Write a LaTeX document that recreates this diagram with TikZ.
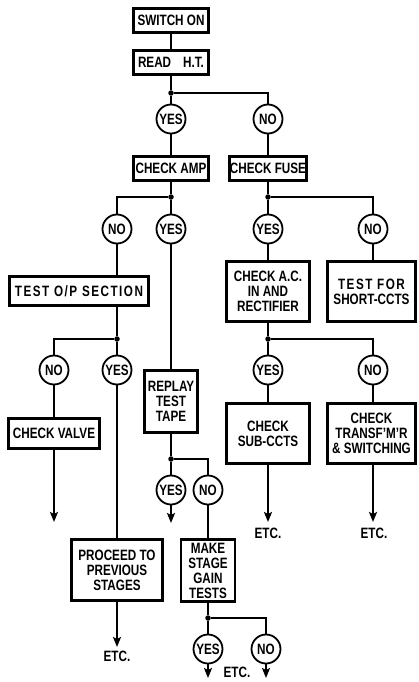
\documentclass[tikz,border=0pt]{standalone}
\usepackage{fontspec}
\usepackage{tikz}
\usetikzlibrary{arrows.meta,positioning}

\newfontfamily\chartfont{Liberation Sans}[FakeStretch=0.78]
\newfontfamily\chartwide{Liberation Sans}[FakeStretch=0.78,LetterSpace=10]

\begin{document}
\begin{tikzpicture}[
    x=1pt, y=-1pt,
    node distance=15pt,
    box/.style={draw,line width=2.8pt,inner sep=0pt,minimum height=24pt,align=center,
        font=\chartfont\bfseries\fontsize{15}{15}\selectfont},
    tallbox/.style={box,minimum height=60pt},
    ans/.style={draw,circle,line width=1.8pt,inner sep=0pt,minimum size=29pt,
        font=\chartfont\bfseries\fontsize{15}{15}\selectfont},
    dot/.style={circle,fill,inner sep=0pt,minimum size=5.5pt},
    link/.style={line width=2pt},
    arrow/.style={link,-{Stealth[length=10pt,width=8pt,inset=2pt]}},
    etc/.style={inner sep=0pt,font=\chartfont\bfseries\fontsize{15}{15}\selectfont}
]
    \useasboundingbox (0,0) rectangle (418,682);

    % start
    \node[box,minimum width=75pt] (sw) at (171,20.5) {SWITCH ON};
    \node[box,minimum width=75pt,below=of sw] (rd) {READ\hspace{12pt}H.T.};
    \node[dot] (j1) at (171,93) {};
    \node[ans] (a1) at (171,119) {YES};
    \node[ans] (a2) at (268,119) {NO};

    \node[box,minimum width=75pt] (amp) at (171,168.5) {CHECK AMP};
    \node[box,minimum width=77pt] (fuse) at (268,168.5) {CHECK FUSE};
    \node[dot] (j2) at (171,197) {};
    \node[dot] (j3) at (268,197) {};
    \node[ans] (a3) at (117,229) {NO};
    \node[ans] (a4) at (171,229) {YES};
    \node[ans] (a5) at (268,229) {YES};
    \node[ans] (a6) at (373,229) {NO};

    \node[box,minimum width=139pt,minimum height=29pt,font=\chartwide\bfseries\fontsize{15}{15}\selectfont] (op) at (79,291) {TEST O/P SECTION};
    \node[tallbox,minimum width=83pt] (acin) at (268,291.5) {CHECK A.C.\\IN AND\\RECTIFIER};
    \node[tallbox,minimum width=88pt] (short) at (371.5,291.5) {{\chartwide TEST FOR}\\SHORT-CCTS};
    \node[dot] (j4) at (117,339) {};
    \node[dot] (j5) at (268,339) {};
    \node[ans] (a7) at (54,370) {NO};
    \node[ans] (a8) at (117,370) {YES};
    \node[ans] (a9) at (268,370) {YES};
    \node[ans] (a10) at (373,370) {NO};

    \node[tallbox,minimum width=53pt,minimum height=62pt] (replay) at (171,401.5) {REPLAY\\TEST\\TAPE};
    \node[box,minimum width=91pt,minimum height=30pt] (valve) at (54,433.5) {CHECK VALVE};
    \node[tallbox,minimum width=83pt] (sub) at (268,433.5) {CHECK\\SUB-CCTS};
    \node[tallbox,minimum width=88pt] (tr) at (371.5,433.5) {CHECK\\TRANSF’M’R\\\& SWITCHING};
    \node[dot] (j6) at (171,459) {};
    \node[ans] (a11) at (171,490) {YES};
    \node[ans] (a12) at (208,490) {NO};

    \node[tallbox,minimum width=91pt,minimum height=61pt] (proceed) at (117,570) {PROCEED TO\\PREVIOUS\\STAGES};
    \node[tallbox,minimum width=54pt,minimum height=62pt] (make) at (208,570.5) {MAKE\\STAGE\\GAIN\\TESTS};
    \node[dot] (j7) at (208,618) {};
    \node[ans] (a13) at (208,649) {YES};
    \node[ans] (a14) at (266,649) {NO};

    % loose ends
    \coordinate (e1) at (54,522);
    \coordinate (e2) at (171,523);
    \coordinate (e3) at (268,522);
    \coordinate (e4) at (373,522);
    \coordinate (e5) at (117,647);
    \coordinate (e6) at (208,678);
    \coordinate (e7) at (266,678);
    \node[etc] (etc1) at (268,533) {ETC.};
    \node[etc] (etc2) at (374,533) {ETC.};
    \node[etc] (etc3) at (117,656) {ETC.};
    \node[etc] (etc4) at (237,672) {ETC.};

    \draw[link] (sw) -- (rd);
    \draw[link] (rd) -- (j1);
    \draw[link] (j1) -- (a1);
    \draw[link] (j1) -| (a2);
    \draw[link] (a1) -- (amp);
    \draw[link] (a2) -- (fuse);
    \draw[link] (amp) -- (j2);
    \draw[link] (j2) -| (a3);
    \draw[link] (j2) -- (a4);
    \draw[link] (fuse) -- (j3);
    \draw[link] (j3) -- (a5);
    \draw[link] (j3) -| (a6);
    \draw[link] (a3) -- (a3 |- op.north);
    \draw[link] (a4) -- (replay);
    \draw[link] (a5) -- (acin);
    \draw[link] (a6) -- (a6 |- short.north);
    \draw[link] (op.south -| j4) -- (j4);
    \draw[link] (j4) -| (a7);
    \draw[link] (j4) -- (a8);
    \draw[link] (acin) -- (j5);
    \draw[link] (j5) -- (a9);
    \draw[link] (j5) -| (a10);
    \draw[link] (a7) -- (valve);
    \draw[link] (a8) -- (proceed);
    \draw[link] (a9) -- (sub);
    \draw[link] (a10) -- (a10 |- tr.north);
    \draw[arrow] (valve) -- (e1);
    \draw[link] (replay) -- (j6);
    \draw[link] (j6) -- (a11);
    \draw[link] (j6) -| (a12);
    \draw[arrow] (a11) -- (e2);
    \draw[arrow] (sub) -- (e3);
    \draw[arrow] (tr.south -| a10) -- (e4);
    \draw[link] (a12) -- (make);
    \draw[arrow] (proceed) -- (e5);
    \draw[link] (make) -- (j7);
    \draw[link] (j7) -- (a13);
    \draw[link] (j7) -| (a14);
    \draw[arrow] (a13) -- (e6);
    \draw[arrow] (a14) -- (e7);
\end{tikzpicture}
\end{document}
